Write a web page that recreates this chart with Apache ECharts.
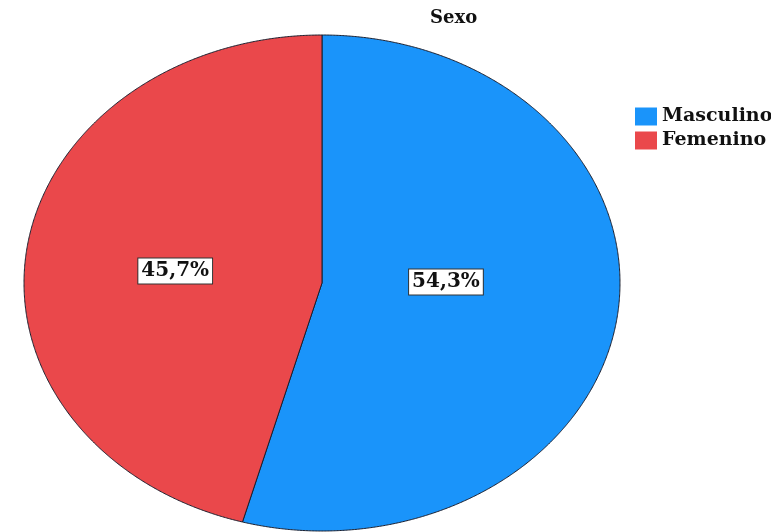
<!DOCTYPE html>
<html>
<head>
<meta charset="utf-8">
<script src="https://cdn.jsdelivr.net/npm/echarts@6/dist/echarts.min.js"></script>
<style>
  html, body { margin: 0; padding: 0; background: #fff; }
  #chart { width: 771px; height: 532px; }
</style>
</head>
<body>
<div id="chart"></div>
<script>
// Sex distribution (percent of respondents)
const categories = ['Masculino', 'Femenino'];
const shares = [54.3, 45.7];
const chartTitle = 'Sexo';

const colors = ['#1a94fa', '#ea484b'];
const serif = '"DejaVu Serif", "Liberation Serif", serif';

// Elliptical pie layout
const pie = { cx: 322, cy: 283, rx: 298, ry: 248 };
// label anchor: fraction of the radius, and angular nudge (degrees) from the slice middle
const labelRadius = [0.416, 0.495];
const labelNudge = [-8.3, -2.1];

const total = shares.reduce((a, b) => a + b, 0);

function fmt(v) {
  return v.toFixed(1).replace('.', ',') + '%';
}

function sliceRenderer(idx) {
  return function (params, api) {
    const v = api.value(0);
    let before = 0;
    for (let k = 0; k < idx; k++) before += shares[k];
    const a0 = before / total * Math.PI * 2;
    const a1 = (before + v) / total * Math.PI * 2;
    const pts = [[pie.cx, pie.cy]];
    const steps = Math.max(8, Math.ceil((a1 - a0) / 0.005));
    for (let s = 0; s <= steps; s++) {
      const a = a0 + (a1 - a0) * s / steps;
      pts.push([pie.cx + pie.rx * Math.sin(a), pie.cy - pie.ry * Math.cos(a)]);
    }
    const am = (a0 + a1) / 2 + labelNudge[idx] * Math.PI / 180;
    const f = labelRadius[idx];
    const lx = pie.cx + f * pie.rx * Math.sin(am);
    const ly = pie.cy - f * pie.ry * Math.cos(am);
    return {
      type: 'group',
      children: [
        {
          type: 'polygon',
          shape: { points: pts },
          style: { fill: colors[idx], stroke: '#1b1f2e', lineWidth: 1 }
        },
        {
          type: 'text',
          z2: 10,
          style: {
            x: lx, y: ly,
            text: fmt(v),
            align: 'center',
            verticalAlign: 'middle',
            font: 'bold 20px ' + serif,
            fill: '#111',
            backgroundColor: '#fff',
            borderColor: '#333',
            borderWidth: 1,
            padding: [3, 3, 2, 3],
            lineHeight: 20
          }
        }
      ]
    };
  };
}

const chart = echarts.init(document.getElementById('chart'));
chart.setOption({
  backgroundColor: '#fff',
  animation: false,
  title: {
    text: chartTitle,
    left: 430,
    top: 9,
    padding: 0,
    textStyle: { fontFamily: serif, fontWeight: 'bold', fontSize: 18, color: '#111' }
  },
  legend: {
    orient: 'vertical',
    left: 635,
    top: 107,
    padding: 0,
    itemWidth: 22,
    itemHeight: 18,
    itemGap: 5,
    icon: 'rect',
    selectedMode: false,
    data: categories,
    itemStyle: { borderWidth: 0 },
    textStyle: { fontFamily: serif, fontWeight: 'bold', fontSize: 19, color: '#111', padding: [0, 0, 0, 0] }
  },
  series: categories.map((name, i) => ({
    type: 'custom',
    name: name,
    coordinateSystem: 'none',
    color: colors[i],
    renderItem: sliceRenderer(i),
    data: [[shares[i]]]
  }))
});
</script>
</body>
</html>
